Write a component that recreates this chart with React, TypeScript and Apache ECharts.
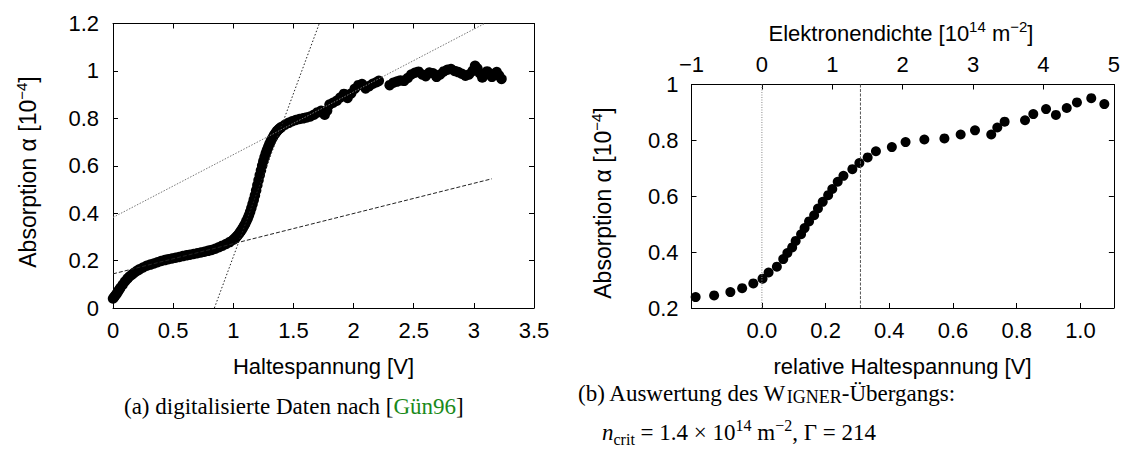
import React, { useEffect, useRef } from "react";
import * as echarts from "echarts";

// ---------- data ----------
const leftVolt = [
  0.0, 0.01, 0.02, 0.03, 0.04, 0.05, 0.06, 0.08, 0.1, 0.12, 0.14, 0.16, 0.18, 0.2, 0.22, 0.25, 0.28, 0.31, 0.34, 0.37,
  0.4, 0.43, 0.46, 0.49, 0.52, 0.55, 0.58, 0.61, 0.64, 0.67, 0.7, 0.73, 0.76, 0.79, 0.82, 0.85, 0.88, 0.91, 0.94, 0.97,
  1.0, 1.01, 1.02, 1.03, 1.04, 1.05, 1.06, 1.07, 1.08, 1.09, 1.1, 1.11, 1.12, 1.13, 1.14, 1.15, 1.16, 1.17, 1.18, 1.19,
  1.2, 1.21, 1.22, 1.23, 1.24, 1.25, 1.26, 1.27, 1.28, 1.29, 1.3, 1.31, 1.32, 1.33, 1.34, 1.35, 1.36, 1.37, 1.38, 1.39,
  1.4, 1.43, 1.46, 1.49, 1.52, 1.55, 1.58, 1.61, 1.64, 1.67, 1.7, 1.73, 1.76, 1.78, 1.8, 1.83, 1.86, 1.89, 1.92, 1.95,
  1.98, 2.01, 2.04, 2.07, 2.1, 2.13, 2.16, 2.19, 2.21, 2.3, 2.33, 2.36, 2.39, 2.42, 2.45, 2.48, 2.51, 2.54, 2.57, 2.6,
  2.63, 2.66, 2.69, 2.72, 2.75, 2.78, 2.81, 2.84, 2.87, 2.9, 2.93, 2.96, 2.99, 3.01, 3.03, 3.05, 3.07, 3.09, 3.11, 3.13,
  3.15, 3.17, 3.19, 3.21, 3.23,
];
const leftAbs = [
  0.04, 0.046, 0.053, 0.06, 0.068, 0.076, 0.084, 0.098, 0.112, 0.124, 0.134, 0.142, 0.15, 0.157, 0.163, 0.171, 0.178, 0.183, 0.188, 0.193,
  0.198, 0.202, 0.206, 0.209, 0.212, 0.215, 0.219, 0.222, 0.225, 0.228, 0.231, 0.234, 0.237, 0.241, 0.245, 0.25, 0.256, 0.263, 0.27, 0.278,
  0.288, 0.292, 0.297, 0.302, 0.308, 0.315, 0.322, 0.33, 0.338, 0.347, 0.356, 0.367, 0.378, 0.391, 0.405, 0.421, 0.438, 0.456, 0.475, 0.496,
  0.518, 0.539, 0.56, 0.58, 0.6, 0.619, 0.636, 0.652, 0.666, 0.679, 0.691, 0.702, 0.712, 0.721, 0.73, 0.737, 0.744, 0.75, 0.755, 0.759,
  0.763, 0.773, 0.781, 0.788, 0.793, 0.797, 0.8, 0.804, 0.808, 0.815, 0.825, 0.832, 0.815, 0.832, 0.858, 0.866, 0.874, 0.888, 0.903, 0.886,
  0.905, 0.925, 0.94, 0.945, 0.926, 0.936, 0.946, 0.952, 0.958, 0.94, 0.95, 0.955, 0.96, 0.958, 0.97, 0.985, 0.992, 0.997, 0.985, 0.978,
  0.993, 0.99, 0.975, 0.985, 0.998, 1.005, 1.008, 1.0, 0.995, 0.988, 0.98, 0.985, 1.0, 1.022, 1.01, 0.99, 0.972, 0.985, 0.998, 0.99,
  0.975, 0.985, 0.995, 0.98, 0.966,
];

const rightVolt = [
  -0.208, -0.15, -0.099, -0.062, -0.027, 0.002, 0.021, 0.047, 0.067, 0.08, 0.095, 0.106, 0.123, 0.134, 0.148, 0.164, 0.176, 0.191,
  0.208, 0.221, 0.238, 0.256, 0.284, 0.306, 0.332, 0.358, 0.408, 0.451, 0.51, 0.573, 0.624, 0.669, 0.72, 0.739, 0.762, 0.826, 0.852,
  0.892, 0.923, 0.957, 0.989, 1.034, 1.075,
];
const rightAbs = [
  0.239, 0.245, 0.257, 0.271, 0.288, 0.305, 0.327, 0.348, 0.375, 0.397, 0.417, 0.44, 0.464, 0.486, 0.51, 0.532, 0.556, 0.58,
  0.604, 0.626, 0.652, 0.673, 0.697, 0.719, 0.739, 0.761, 0.776, 0.794, 0.803, 0.807, 0.821, 0.836, 0.821, 0.846, 0.867, 0.872, 0.894,
  0.912, 0.891, 0.916, 0.936, 0.951, 0.93,
];

// fitted lines of panel (a): [x, y] end points
const fitSteep = [[0.843, 0], [1.715, 1.2]];
const fitUpper = [[0, 0.382], [3.09, 1.2]];
const fitLower = [[0, 0.144], [3.15, 0.545]];

// panel (b) vertical markers in density units (10^14 m^-2)
const densityZero = 0;
const densityCrit = 1.4;

// tick values
const relVoltTicks = [0, 0.2, 0.4, 0.6, 0.8, 1.0];

const SANS = "Liberation Sans";
const SERIF = "Liberation Serif";
const FS = 22;
const FS_Y = 23;

function zipPairs(xs: number[], ys: number[]) {
  return xs.map((x, i) => [x, ys[i]]);
}

const axisLine = { show: true, onZero: false, lineStyle: { color: "#000", width: 1 } };
const tickIn = { show: true, inside: true, length: 5, lineStyle: { color: "#000", width: 1 } };
const labelStyle = { color: "#000", fontSize: FS, fontFamily: SANS };

const supRich = {
  sup: { fontSize: 15, fontFamily: SANS, fill: "#000", color: "#000", verticalAlign: "top", lineHeight: 15 },
};

export default function App() {
  const ref = useRef<HTMLDivElement>(null);
  useEffect(() => {
    if (!ref.current) return;
    const chart = echarts.init(ref.current, undefined, { renderer: "svg" });
    const option: any = {
      animation: false,
      backgroundColor: "#fff",
      textStyle: { fontFamily: SANS },
      grid: [
        { left: 113, top: 23.5, width: 421, height: 284.5, containLabel: false },
        { left: 691.5, top: 84.5, width: 422.5, height: 223.5, containLabel: false },
      ],
      xAxis: [
        {
          type: "value", gridIndex: 0, position: "bottom", min: 0, max: 3.5, interval: 0.5,
          axisLine, axisTick: tickIn, splitLine: { show: false },
          axisLabel: { ...labelStyle, margin: 11 },
        },
        {
          type: "value", gridIndex: 0, position: "top", min: 0, max: 3.5, interval: 0.5,
          axisLine, axisTick: tickIn, splitLine: { show: false }, axisLabel: { show: false },
        },
        {
          type: "value", gridIndex: 1, position: "bottom", min: -0.221, max: 1.105,
          axisLine,
          axisTick: { ...tickIn, customValues: relVoltTicks },
          splitLine: { show: false },
          axisLabel: { ...labelStyle, margin: 11, customValues: relVoltTicks, formatter: (v: number) => v.toFixed(1) },
        },
        {
          type: "value", gridIndex: 1, position: "top", min: -1, max: 5, interval: 1,
          axisLine, axisTick: tickIn, splitLine: { show: false },
          axisLabel: { ...labelStyle, margin: 9, formatter: (v: number) => (v < 0 ? "\u2212" + Math.abs(v) : String(v)) },
        },
      ],
      yAxis: [
        {
          type: "value", gridIndex: 0, position: "left", min: 0, max: 1.2, interval: 0.2,
          axisLine, axisTick: tickIn, splitLine: { show: false },
          axisLabel: { ...labelStyle, margin: 14 },
        },
        {
          type: "value", gridIndex: 0, position: "right", min: 0, max: 1.2, interval: 0.2,
          axisLine, axisTick: tickIn, splitLine: { show: false }, axisLabel: { show: false },
        },
        {
          type: "value", gridIndex: 1, position: "left", min: 0.2, max: 1, interval: 0.2,
          axisLine, axisTick: tickIn, splitLine: { show: false },
          axisLabel: { ...labelStyle, margin: 13 },
        },
        {
          type: "value", gridIndex: 1, position: "right", min: 0.2, max: 1, interval: 0.2,
          axisLine, axisTick: tickIn, splitLine: { show: false }, axisLabel: { show: false },
        },
      ],
      series: [
        {
          type: "line", xAxisIndex: 0, yAxisIndex: 0, data: fitUpper, symbol: "none", silent: true,
          lineStyle: { color: "#777", width: 1, type: [1.5, 1.5] },
        },
        {
          type: "line", xAxisIndex: 0, yAxisIndex: 0, data: fitSteep, symbol: "none", silent: true,
          lineStyle: { color: "#222", width: 1, type: [1.5, 2] },
        },
        {
          type: "line", xAxisIndex: 0, yAxisIndex: 0, data: fitLower, symbol: "none", silent: true,
          lineStyle: { color: "#222", width: 1, type: [4, 2] },
        },
        {
          type: "scatter", xAxisIndex: 0, yAxisIndex: 0, data: zipPairs(leftVolt, leftAbs),
          symbol: "circle", symbolSize: 10.5, itemStyle: { color: "#000", opacity: 1 },
        },
        {
          type: "line", xAxisIndex: 3, yAxisIndex: 2, data: [[densityZero, 0.2], [densityZero, 1]], symbol: "none",
          lineStyle: { color: "#888", width: 1, type: [1, 1.5] },
        },
        {
          type: "line", xAxisIndex: 3, yAxisIndex: 2, data: [[densityCrit, 0.2], [densityCrit, 1]], symbol: "none",
          lineStyle: { color: "#555", width: 1, type: [3, 1.5] },
        },
        {
          type: "scatter", xAxisIndex: 2, yAxisIndex: 2, data: zipPairs(rightVolt, rightAbs),
          symbol: "circle", symbolSize: 10, itemStyle: { color: "#000", opacity: 1 },
        },
      ],
      graphic: [
        {
          type: "text", x: 28, y: 172, rotation: Math.PI / 2,
          style: {
            text: "Absorption α [10{sup|\u22124}]", fontSize: FS_Y, fontFamily: SANS, fill: "#000",
            align: "center", verticalAlign: "middle", lineHeight: 28, rich: supRich,
          },
        },
        {
          type: "text", x: 323.5, y: 366,
          style: { text: "Haltespannung [V]", fontSize: FS, fontFamily: SANS, fill: "#000", align: "center", verticalAlign: "middle" },
        },
        {
          type: "text", x: 603, y: 203, rotation: Math.PI / 2,
          style: {
            text: "Absorption α [10{sup|\u22124}]", fontSize: FS_Y, fontFamily: SANS, fill: "#000",
            align: "center", verticalAlign: "middle", lineHeight: 28, rich: supRich,
          },
        },
        {
          type: "text", x: 902.5, y: 366,
          style: { text: "relative Haltespannung [V]", fontSize: FS, fontFamily: SANS, fill: "#000", align: "center", verticalAlign: "middle" },
        },
        {
          type: "text", x: 901, y: 33,
          style: {
            text: "Elektronendichte [10{sup|14} m{sup|\u22122}]", fontSize: FS, fontFamily: SANS, fill: "#000",
            align: "center", verticalAlign: "middle", lineHeight: 28, rich: supRich,
          },
        },
        {
          type: "text", x: 124, y: 406,
          style: {
            text: "(a) digitalisierte Daten nach [{g|Gün96}]", fontSize: 23, fontFamily: SERIF, fill: "#000",
            align: "left", verticalAlign: "middle",
            rich: { g: { fontSize: 23, fontFamily: SERIF, fill: "#1a8a1a", color: "#1a8a1a" } },
          },
        },
        {
          type: "text", x: 578, y: 393,
          style: {
            text: "(b) Auswertung des W{sc|IGNER}-Übergangs:", fontSize: 23, fontFamily: SERIF, fill: "#000",
            align: "left", verticalAlign: "middle", lineHeight: 26,
            rich: { sc: { fontSize: 18, fontFamily: SERIF, fill: "#000", color: "#000", verticalAlign: "bottom", lineHeight: 22 } },
          },
        },
        {
          type: "text", x: 602, y: 432,
          style: {
            text: "{i|n}{sub|crit} = 1.4 × 10{sup|14} m{sup|\u22122}, Γ = 214", fontSize: 23, fontFamily: SERIF, fill: "#000",
            align: "left", verticalAlign: "middle", lineHeight: 30,
            rich: {
              i: { fontSize: 23, fontFamily: SERIF, fontStyle: "italic", fill: "#000", color: "#000" },
              sub: { fontSize: 16, fontFamily: SERIF, fill: "#000", color: "#000", verticalAlign: "bottom", lineHeight: 16 },
              sup: { fontSize: 16, fontFamily: SERIF, fill: "#000", color: "#000", verticalAlign: "top", lineHeight: 16 },
            },
          },
        },
      ],
    };
    chart.setOption(option);
    return () => chart.dispose();
  }, []);
  return (
    <div
      ref={ref}
      style={{ position: "fixed", left: 0, top: 0, width: 1123, height: 459, background: "#fff" }}
    />
  );
}
